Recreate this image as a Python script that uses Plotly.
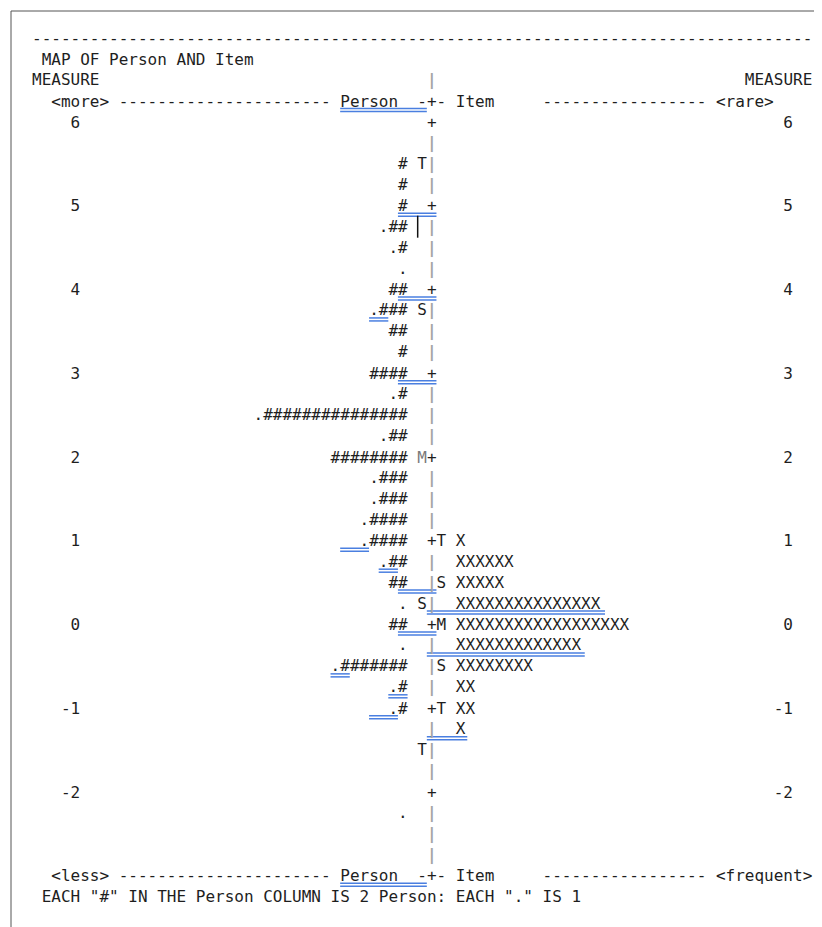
import plotly.graph_objects as go

measure_rows = [6.0, 5.75, 5.5, 5.25, 5.0, 4.75, 4.5, 4.25, 4.0, 3.75, 3.5, 3.25,
                3.0, 2.75, 2.5, 2.25, 2.0, 1.75, 1.5, 1.25, 1.0, 0.75, 0.5, 0.25,
                0.0, -0.25, -0.5, -0.75, -1.0, -1.25, -1.5, -1.75, -2.0, -2.25,
                -2.5, -2.75]
# persons: each "#" is 2 persons, each "." is 1
person_hash = [0, 0, 1, 1, 1, 2, 1, 0, 2, 3, 2, 1,
               4, 1, 15, 2, 8, 3, 3, 4, 4, 2, 2, 0,
               2, 0, 7, 1, 1, 0, 0, 0, 0, 0,
               0, 0]
person_dot = [0, 0, 0, 0, 0, 1, 1, 1, 0, 1, 0, 0,
              0, 1, 1, 1, 0, 1, 1, 1, 1, 1, 0, 1,
              0, 1, 1, 1, 1, 0, 0, 0, 0, 1,
              0, 0]
# items: each "X" is 1 item
item_count = [0, 0, 0, 0, 0, 0, 0, 0, 0, 0, 0, 0,
              0, 0, 0, 0, 0, 0, 0, 0, 1, 6, 5, 15,
              18, 13, 8, 2, 2, 1, 0, 0, 0, 0,
              0, 0]
person_marker_rows = [5.5, 3.75, 2.0, 0.25, -1.5]
person_marker_text = ["T", "S", "M", "S", "T"]
item_marker_rows = [1.0, 0.5, 0.0, -0.5, -1.0]
item_marker_text = ["T", "S", "M", "S", "T"]

title_text = "MAP OF Person AND Item"
footnote_text = 'EACH "#" IN THE Person COLUMN IS 2 Person: EACH "." IS 1'

# blue double underlines seen in the reference (row, first column, last column)
underline_rows = [6.25, 5.0, 4.0, 3.75, 3.0, 1.0, 0.75, 0.5, 0.25, 0.0, -0.25,
                  -0.5, -0.75, -1.0, -1.25, -3.0]
underline_from = [32, 38, 38, 35, 38, 32, 36, 38, 41, 38, 41, 31, 37, 35, 41, 32]
underline_to = [41, 42, 42, 37, 42, 35, 38, 42, 59.5, 42, 57.4, 33, 39, 38, 45.2, 41]

# ---------------- layout constants ----------------
# the page body has an 8px margin, so the figure is drawn 8px in from the corner
W, H = 814, 919
CW = 9.63          # character advance (px) of DejaVu Sans Mono at 16px
X0 = 24            # pixel of column 0 inside the figure
ROW_PX = 83.75     # pixels per logit
Y6 = 114           # pixel of measure 6 inside the figure
NCOL = 82
CENTER = 41
FONT = "DejaVu Sans Mono"
INK = "#1e1e1e"
BAR = "#a3a3a3"
MID = "#7a7a7a"

x_range = [-X0 / CW, (W - X0) / CW]
y_range = [6 - (H - Y6) / ROW_PX, 6 + Y6 / ROW_PX]


def blank():
    return [[" ", INK, False] for _ in range(NCOL)]


def put(line, col, s, color=INK, bold=False):
    for i, ch in enumerate(s):
        if 0 <= col + i < NCOL:
            line[col + i] = [ch, color, bold]


def render(line):
    while line and line[-1][0] == " ":
        line = line[:-1]
    out = []
    i = 0
    while i < len(line):
        ch, col, b = line[i]
        j = i
        seg = ""
        while j < len(line) and line[j][1] == col and line[j][2] == b:
            c = line[j][0]
            c = {" ": "\u00a0", "<": "&lt;", ">": "&gt;", "&": "&amp;"}.get(c, c)
            seg += c
            j += 1
        if b:
            seg = "<b>" + seg + "</b>"
        out.append("<span style='color:%s'>%s</span>" % (col, seg))
        i = j
    return "".join(out)


lines = []

l = blank(); put(l, 0, "-" * NCOL); lines.append((7.0, l))
l = blank(); put(l, 1, title_text); lines.append((6.75, l))
l = blank(); put(l, 0, "MEASURE"); put(l, CENTER, "|", BAR, True); put(l, 74, "MEASURE")
lines.append((6.5, l))
l = blank()
put(l, 2, "<more> " + "-" * 22)
put(l, 32, "Person")
put(l, 40, "-+- Item")
put(l, 53, "-" * 17 + " <rare>")
lines.append((6.25, l))

pm = dict(zip(person_marker_rows, person_marker_text))
im = dict(zip(item_marker_rows, item_marker_text))
for m, nh, nd, nx in zip(measure_rows, person_hash, person_dot, item_count):
    l = blank()
    is_int = float(m).is_integer()
    if is_int:
        lab = str(int(m))
        put(l, 5 - len(lab), lab)
        put(l, 79 - len(lab), lab)
    ps = "." * nd + "#" * nh
    if ps:
        put(l, 39 - len(ps), ps)
    if m in pm:
        put(l, 40, pm[m], MID if pm[m] == "M" else INK)
    if is_int:
        put(l, CENTER, "+")
    else:
        put(l, CENTER, "|", BAR, True)
    if m in im:
        put(l, 42, im[m])
    if nx:
        put(l, 44, "X" * nx)
    lines.append((m, l))

l = blank()
put(l, 2, "<less> " + "-" * 22)
put(l, 32, "Person")
put(l, 40, "-+- Item")
put(l, 53, "-" * 17 + " <frequent>")
lines.append((-3.0, l))
l = blank(); put(l, 1, footnote_text); lines.append((-3.25, l))

annotations = []
for y, l in lines:
    annotations.append(dict(
        x=0, y=y, xref="x", yref="y", xanchor="left", yanchor="middle",
        text=render(l), showarrow=False, align="left",
        font=dict(family=FONT, size=16, color=INK),
        borderpad=0, borderwidth=0,
    ))

shapes = []
shapes.append(dict(type="line", xref="paper", yref="paper", x0=3 / W, x1=1,
                   y0=1 - 3 / H, y1=1 - 3 / H, line=dict(color="#555555", width=1)))
shapes.append(dict(type="line", xref="paper", yref="paper", x0=3 / W, x1=3 / W,
                   y0=0, y1=1 - 3 / H, line=dict(color="#555555", width=1)))
for r, a, b in zip(underline_rows, underline_from, underline_to):
    for off in (7.5, 10.5):
        yy = r - off / ROW_PX
        shapes.append(dict(type="line", xref="x", yref="y", x0=a, x1=b, y0=yy, y1=yy,
                           line=dict(color="#4a7fe0", width=1.5)))
shapes.append(dict(type="line", xref="x", yref="y", x0=40.05, x1=40.05,
                   y0=4.75 + 11 / ROW_PX, y1=4.75 - 11 / ROW_PX,
                   line=dict(color="#111111", width=1.5)))

fig = go.Figure()
fig.add_trace(go.Scatter(x=[0], y=[0], mode="markers", marker=dict(opacity=0),
                         hoverinfo="skip", showlegend=False))
fig.update_layout(
    width=W, height=H, margin=dict(l=0, r=0, t=0, b=0),
    paper_bgcolor="white", plot_bgcolor="white",
    xaxis=dict(range=x_range, visible=False, fixedrange=True),
    yaxis=dict(range=y_range, visible=False, fixedrange=True),
    annotations=annotations, shapes=shapes, showlegend=False,
)
fig.write_html("out.html")
